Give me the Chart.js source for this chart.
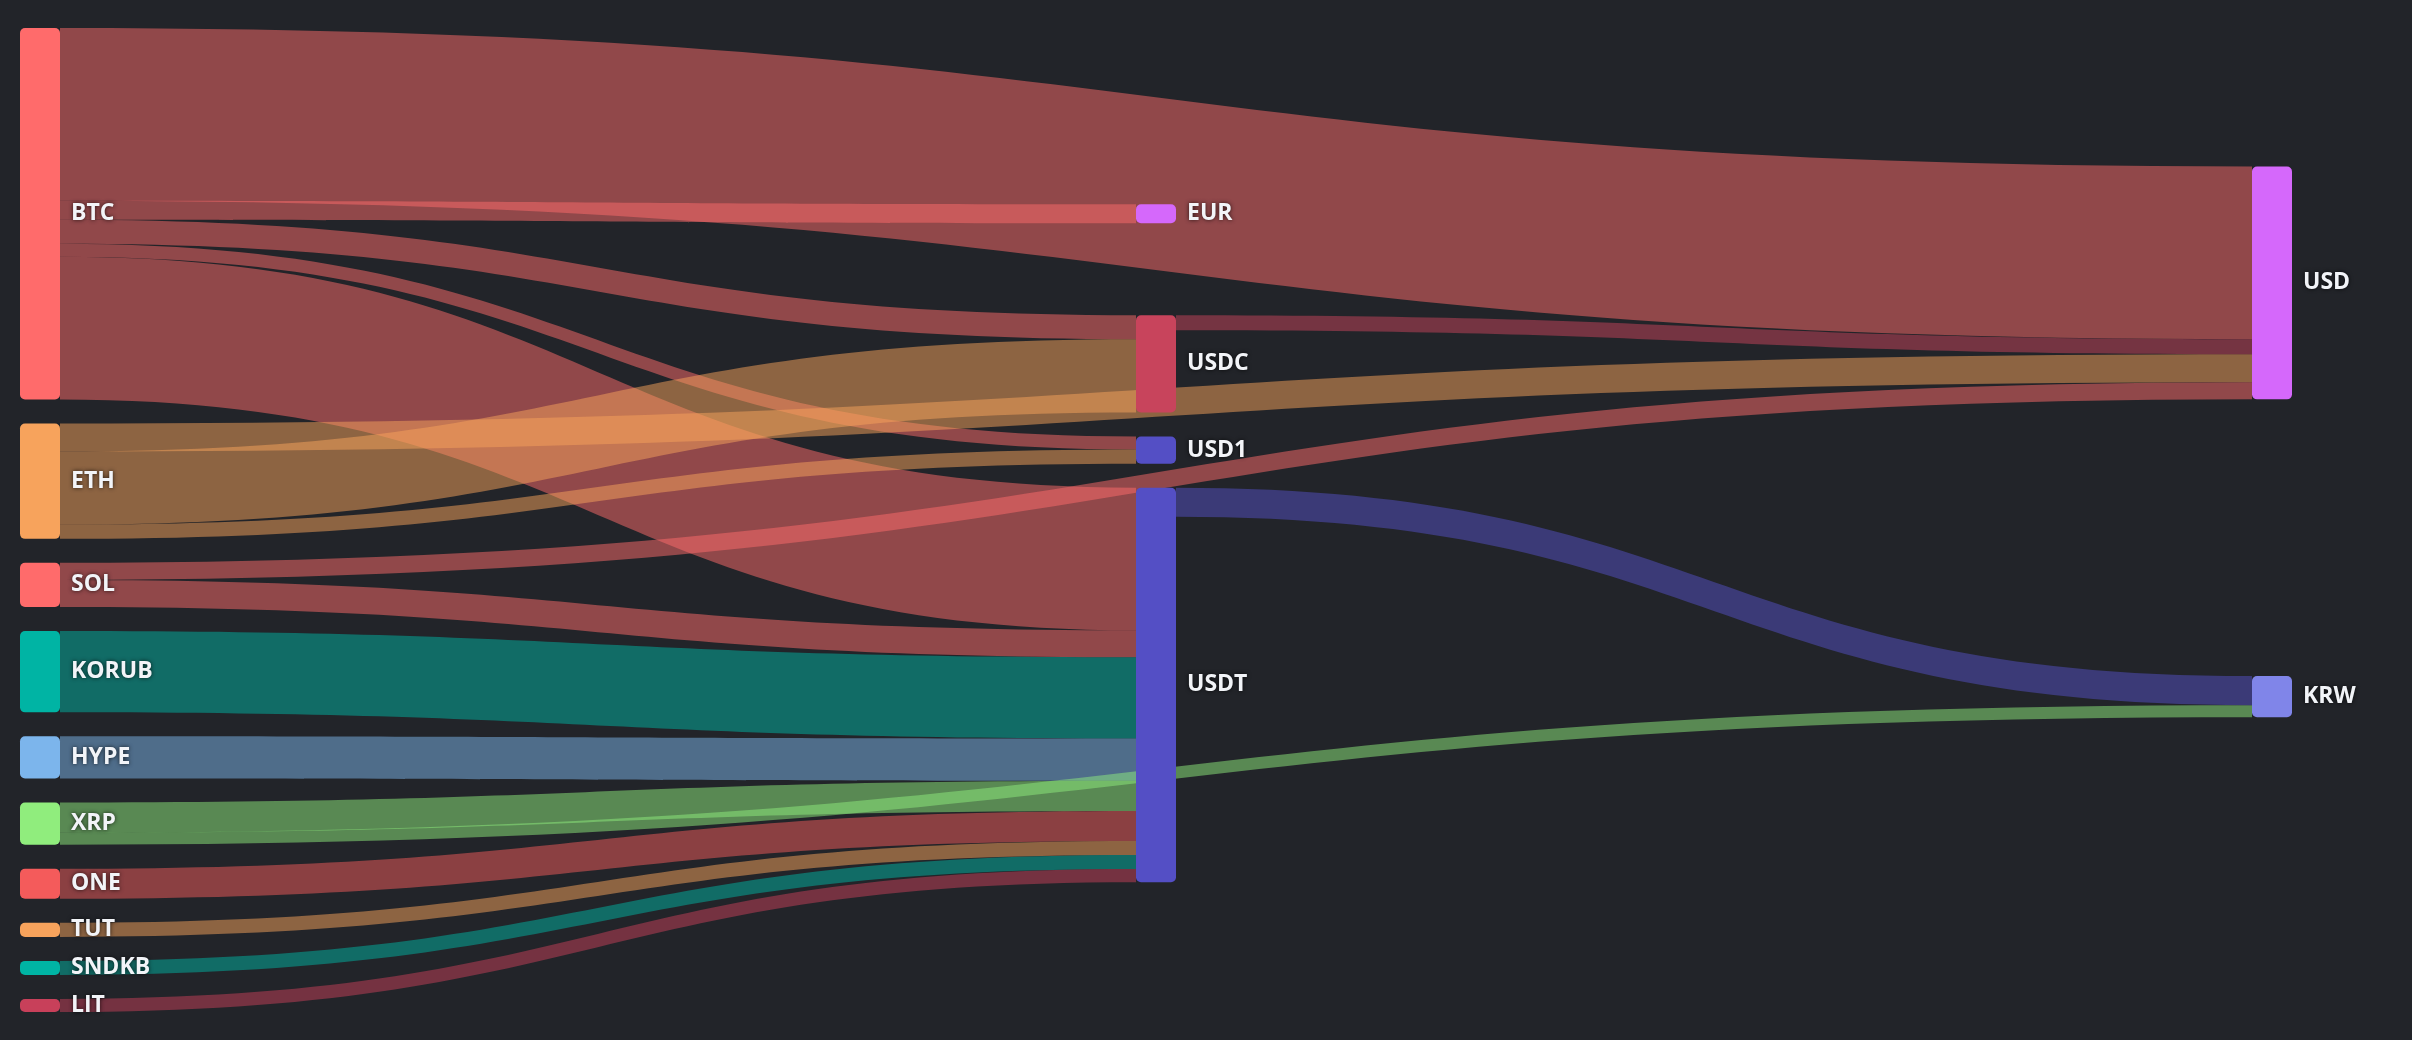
<!DOCTYPE html>
<html>
<head>
<meta charset="utf-8">
<script src="https://cdn.jsdelivr.net/npm/chart.js@4.4.1/dist/chart.umd.min.js"></script>
<style>
  html, body { margin: 0; padding: 0; background: #222429; }
  #wrap { width: 2412px; height: 1040px; position: relative; }
</style>
</head>
<body>
<div id="wrap"><canvas id="flows"></canvas></div>
<script>
// ---- nodes ----
const nodeNames = ['BTC', 'ETH', 'SOL', 'KORUB', 'HYPE', 'XRP', 'ONE', 'TUT', 'SNDKB', 'LIT',
                   'EUR', 'USDC', 'USD1', 'USDT', 'USD', 'KRW'];
const nodeColors = ['#ff6b6b', '#f7a35c', '#ff6b6b', '#00b4a4', '#7cb5ec', '#90ed7d', '#f45b5b', '#f7a35c', '#00b4a4', '#c8405a',
                    '#d568fb', '#c8445c', '#544fc5', '#544fc5', '#d568fb', '#8085e9'];

// ---- flows ----
const linkSources = ['BTC', 'BTC', 'BTC', 'BTC', 'BTC', 'ETH', 'ETH', 'ETH', 'SOL', 'SOL',
                     'KORUB', 'HYPE', 'XRP', 'XRP', 'ONE', 'TUT', 'SNDKB', 'LIT', 'USDC', 'USDT'];
const linkTargets = ['USD', 'EUR', 'USDC', 'USD1', 'USDT', 'USD', 'USDC', 'USD1', 'USD', 'USDT',
                     'USDT', 'USDT', 'USDT', 'KRW', 'USDT', 'USDT', 'USDT', 'USDT', 'USD', 'KRW'];
const linkValues  = [172, 19, 24, 13, 142, 28, 73, 14, 17, 27,
                     81, 42, 30, 12, 30, 14, 14, 13, 15, 29];

// layout settings (y axis runs 0..100 = full plot height)
const NODE_WIDTH = 40;
const NODE_GAP = 2.44;
const ITERATIONS = 100;
const Y_SPAN = 100;

// =======================
// LAYOUT (sankey, left aligned)
// =======================
function sum(list, f) { return list.reduce((a, b) => a + f(b), 0); }

function buildLayout() {
  const nodes = nodeNames.map((name, i) => ({ name, color: nodeColors[i], inEdges: [], outEdges: [] }));
  const byName = {};
  nodes.forEach(n => byName[n.name] = n);
  const edges = linkValues.map((v, i) => {
    const e = { n1: byName[linkSources[i]], n2: byName[linkTargets[i]], value: v };
    e.n1.outEdges.push(e);
    e.n2.inEdges.push(e);
    return e;
  });
  nodes.forEach(n => n.value = Math.max(sum(n.outEdges, e => e.value), sum(n.inEdges, e => e.value)));

  // depth = step at which in-degree drops to zero
  const indeg = new Map(nodes.map(n => [n, n.inEdges.length]));
  let zero = nodes.filter(n => indeg.get(n) === 0);
  let depth = 0;
  while (zero.length) {
    const next = [];
    zero.forEach(n => {
      n.depth = depth;
      n.outEdges.forEach(e => {
        indeg.set(e.n2, indeg.get(e.n2) - 1);
        if (indeg.get(e.n2) === 0 && next.indexOf(e.n2) < 0) next.push(e.n2);
      });
    });
    depth++;
    zero = next;
  }
  const maxDepth = depth - 1;
  const columns = [];
  for (let d = 0; d <= maxDepth; d++) columns.push(nodes.filter(n => n.depth === d));

  // initial breadth
  const ky = Math.min(...columns.map(c => (Y_SPAN - (c.length - 1) * NODE_GAP) / sum(c, n => n.value)));
  columns.forEach(c => c.forEach((n, i) => { n.y = i * 0.1; n.dy = n.value * ky; }));
  edges.forEach(e => e.dy = e.value * ky);

  const center = n => n.y + n.dy / 2;

  function resolveCollisions() {
    columns.forEach(col => {
      col.sort((a, b) => a.y - b.y);
      let y0 = 0, node;
      for (let i = 0; i < col.length; i++) {
        node = col[i];
        const d = y0 - node.y;
        if (d > 0) node.y += d;
        y0 = node.y + node.dy + NODE_GAP;
      }
      let d = y0 - NODE_GAP - Y_SPAN;
      if (d > 0) {
        node.y -= d;
        y0 = node.y;
        for (let i = col.length - 2; i >= 0; i--) {
          node = col[i];
          d = node.y + node.dy + NODE_GAP - y0;
          if (d > 0) node.y -= d;
          y0 = node.y;
        }
      }
    });
  }

  function relaxRightToLeft(alpha) {
    columns.slice().reverse().forEach(col => col.forEach(n => {
      if (!n.outEdges.length) return;
      const y = sum(n.outEdges, e => center(e.n2) * e.value) / sum(n.outEdges, e => e.value);
      n.y += (y - center(n)) * alpha;
    }));
  }

  function relaxLeftToRight(alpha) {
    columns.forEach(col => col.forEach(n => {
      if (!n.inEdges.length) return;
      const y = sum(n.inEdges, e => center(e.n1) * e.value) / sum(n.inEdges, e => e.value);
      n.y += (y - center(n)) * alpha;
    }));
  }

  resolveCollisions();
  let alpha = 1;
  for (let it = ITERATIONS; it > 0; it--) {
    alpha *= 0.99;
    relaxRightToLeft(alpha);
    resolveCollisions();
    relaxLeftToRight(alpha);
    resolveCollisions();
  }

  // edge offsets inside nodes
  nodes.forEach(n => {
    n.outEdges.sort((a, b) => a.n2.y - b.n2.y);
    n.inEdges.sort((a, b) => a.n1.y - b.n1.y);
  });
  nodes.forEach(n => {
    let sy = 0, ty = 0;
    n.outEdges.forEach(e => { e.sy = sy; sy += e.dy; });
    n.inEdges.forEach(e => { e.ty = ty; ty += e.dy; });
  });

  return { nodes, edges, maxDepth };
}

const layout = buildLayout();

function hexToRgba(hex, a) {
  const v = parseInt(hex.slice(1), 16);
  return `rgba(${(v >> 16) & 255}, ${(v >> 8) & 255}, ${v & 255}, ${a})`;
}

// =======================
// DRAW PLUGIN
// =======================
const sankeyPlugin = {
  id: 'sankeyDraw',
  afterDatasetsDraw(chart) {
    const ctx = chart.ctx;
    const xs = chart.scales.x;
    const ys = chart.scales.y;
    ctx.save();

    // links
    layout.edges.forEach(e => {
      const x1 = xs.getPixelForValue(e.n1.depth) + NODE_WIDTH;
      const x2 = xs.getPixelForValue(e.n2.depth);
      const y1 = ys.getPixelForValue(e.n1.y + e.sy);
      const y1b = ys.getPixelForValue(e.n1.y + e.sy + e.dy);
      const y2 = ys.getPixelForValue(e.n2.y + e.ty);
      const y2b = ys.getPixelForValue(e.n2.y + e.ty + e.dy);
      const cx1 = x1 * 0.5 + x2 * 0.5;
      ctx.beginPath();
      ctx.moveTo(x1, y1);
      ctx.bezierCurveTo(cx1, y1, cx1, y2, x2, y2);
      ctx.lineTo(x2, y2b);
      ctx.bezierCurveTo(cx1, y2b, cx1, y1b, x1, y1b);
      ctx.closePath();
      ctx.fillStyle = hexToRgba(e.n1.color, 0.5);
      ctx.fill();
    });

    // nodes
    layout.nodes.forEach(n => {
      const x = xs.getPixelForValue(n.depth);
      const top = ys.getPixelForValue(n.y);
      const h = ys.getPixelForValue(n.y + n.dy) - top;
      ctx.beginPath();
      ctx.roundRect(x, top, NODE_WIDTH, h, Math.min(5, h / 2));
      ctx.fillStyle = n.color;
      ctx.fill();
    });

    // labels
    ctx.font = 'bold 23px "Open Sans", "Noto Sans", sans-serif';
    ctx.textBaseline = 'middle';
    ctx.textAlign = 'left';
    ctx.fillStyle = '#f2f4f8';
    ctx.shadowColor = 'rgba(0, 0, 0, 0.75)';
    ctx.shadowBlur = 4;
    layout.nodes.forEach(n => {
      const x = xs.getPixelForValue(n.depth) + NODE_WIDTH + 11;
      const yc = ys.getPixelForValue(n.y + n.dy / 2);
      ctx.fillText(n.name, x, yc);
    });
    ctx.restore();
  }
};

new Chart(document.getElementById('flows'), {
  type: 'scatter',
  data: { datasets: [] },
  options: {
    responsive: true,
    maintainAspectRatio: false,
    animation: false,
    events: [],
    layout: { padding: { left: 20, right: 160, top: 28, bottom: 28 } },
    plugins: { legend: { display: false }, tooltip: { enabled: false } },
    scales: {
      x: { type: 'linear', min: 0, max: layout.maxDepth, display: false },
      y: { type: 'linear', min: 0, max: Y_SPAN, reverse: true, display: false }
    }
  },
  plugins: [sankeyPlugin]
});
</script>
</body>
</html>
